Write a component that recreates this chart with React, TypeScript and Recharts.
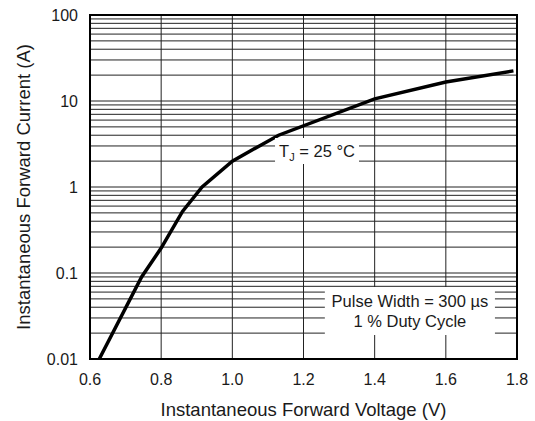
import React from "react";
import {
  LineChart,
  Line,
  XAxis,
  YAxis,
  ReferenceLine,
  ReferenceArea,
} from "recharts";

// Curve readings (V, A)
const voltage = [0.626, 0.745, 0.8, 0.86, 0.915, 1.0, 1.13, 1.4, 1.6, 1.79];
const current = [0.01, 0.09, 0.195, 0.52, 1.0, 2.0, 4.0, 10.6, 16.6, 22.4];

const xTicks = [0.6, 0.8, 1.0, 1.2, 1.4, 1.6, 1.8];
const yTicks = [0.01, 0.1, 1, 10, 100];
const yTickLabels = ["0.01", "0.1", "1", "10", "100"];

const gridX = [0.8, 1.0, 1.2, 1.4, 1.6];
const gridY = [
  0.02, 0.03, 0.04, 0.05, 0.06, 0.07, 0.08, 0.09, 0.1,
  0.2, 0.3, 0.4, 0.5, 0.6, 0.7, 0.8, 0.9, 1,
  2, 3, 4, 5, 6, 7, 8, 9, 10,
  20, 30, 40, 50, 60, 70, 80, 90,
];

const data = voltage.map((v, i) => ({ v, i: current[i] }));

const FONT = "'Liberation Sans', Arial, Helvetica, sans-serif";
const TEXT = "#1a1a1a";

const TjLabel = (props: any) => {
  const vb = props.viewBox || {};
  const cx = vb.x + vb.width / 2;
  const cy = vb.y + vb.height / 2;
  return (
    <text
      x={cx}
      y={cy + 6}
      textAnchor="middle"
      fontFamily={FONT}
      fontSize={16.5}
      fill={TEXT}
    >
      T
      <tspan fontSize={11} dy={4}>J</tspan>
      <tspan dy={-4}> = 25 °C</tspan>
    </text>
  );
};

const PulseLabel = (props: any) => {
  const vb = props.viewBox || {};
  const cx = vb.x + vb.width / 2;
  const cy = vb.y + vb.height / 2;
  return (
    <g fontFamily={FONT} fontSize={16.5} fill={TEXT}>
      <text x={cx} y={cy - 4} textAnchor="middle">
        Pulse Width = 300 µs
      </text>
      <text x={cx} y={cy + 16} textAnchor="middle">
        1 % Duty Cycle
      </text>
    </g>
  );
};

const YTitle = (props: any) => {
  const vb = props.viewBox || {};
  const cy = vb.y + vb.height / 2;
  const x = 30;
  return (
    <text
      x={x}
      y={cy}
      transform={`rotate(-90 ${x} ${cy})`}
      textAnchor="middle"
      fontFamily={FONT}
      fontSize={18.5}
      fill={TEXT}
    >
      Instantaneous Forward Current (A)
    </text>
  );
};

const XTitle = (props: any) => {
  const vb = props.viewBox || {};
  const cx = vb.x + vb.width / 2;
  return (
    <text
      x={cx}
      y={416}
      textAnchor="middle"
      fontFamily={FONT}
      fontSize={18.5}
      fill={TEXT}
    >
      Instantaneous Forward Voltage (V)
    </text>
  );
};

export default function App() {
  const extra: any = { zIndex: 1500 };
  return (
    <div style={{ position: "absolute", left: 0, top: 0, background: "#fff" }}>
      <LineChart
        width={535}
        height={421}
        data={data}
        margin={{ top: 15, right: 18, bottom: 0, left: 0 }}
      >
        <XAxis
          dataKey="v"
          type="number"
          domain={[0.6, 1.8]}
          ticks={xTicks}
          tickFormatter={(v: number) => v.toFixed(1)}
          axisLine={false}
          tickLine={false}
          tickMargin={9}
          height={62}
          allowDataOverflow
          tick={{ fontFamily: FONT, fontSize: 16, fill: TEXT }}
          label={<XTitle />}
        />
        <YAxis
          dataKey="i"
          type="number"
          scale="log"
          domain={[0.01, 100]}
          ticks={yTicks}
          tickFormatter={(v: number) => yTickLabels[yTicks.indexOf(v)] ?? String(v)}
          axisLine={false}
          tickLine={false}
          tickMargin={6}
          width={90}
          allowDataOverflow
          tick={{ fontFamily: FONT, fontSize: 16, fill: TEXT }}
          label={<YTitle />}
        />
        {gridY.map((y) => (
          <ReferenceLine key={"gy" + y} y={y} stroke="#222" strokeWidth={1} />
        ))}
        {gridX.map((x) => (
          <ReferenceLine key={"gx" + x} x={x} stroke="#222" strokeWidth={1} />
        ))}
        <ReferenceArea
          {...extra}
          x1={1.12}
          x2={1.356}
          y1={1.85}
          y2={3.72}
          fill="#fff"
          fillOpacity={1}
          stroke="none"
          label={<TjLabel />}
        />
        <ReferenceArea
          {...extra}
          x1={1.26}
          x2={1.738}
          y1={0.019}
          y2={0.0687}
          fill="#fff"
          fillOpacity={1}
          stroke="none"
          label={<PulseLabel />}
        />
        <ReferenceArea
          {...extra}
          x1={0.6}
          x2={1.8}
          y1={0.01}
          y2={100}
          fill="none"
          fillOpacity={0}
          stroke="#000"
          strokeWidth={2}
        />
        <Line
          dataKey="i"
          type="linear"
          stroke="#000"
          strokeWidth={3.5}
          dot={false}
          isAnimationActive={false}
        />
      </LineChart>
    </div>
  );
}
